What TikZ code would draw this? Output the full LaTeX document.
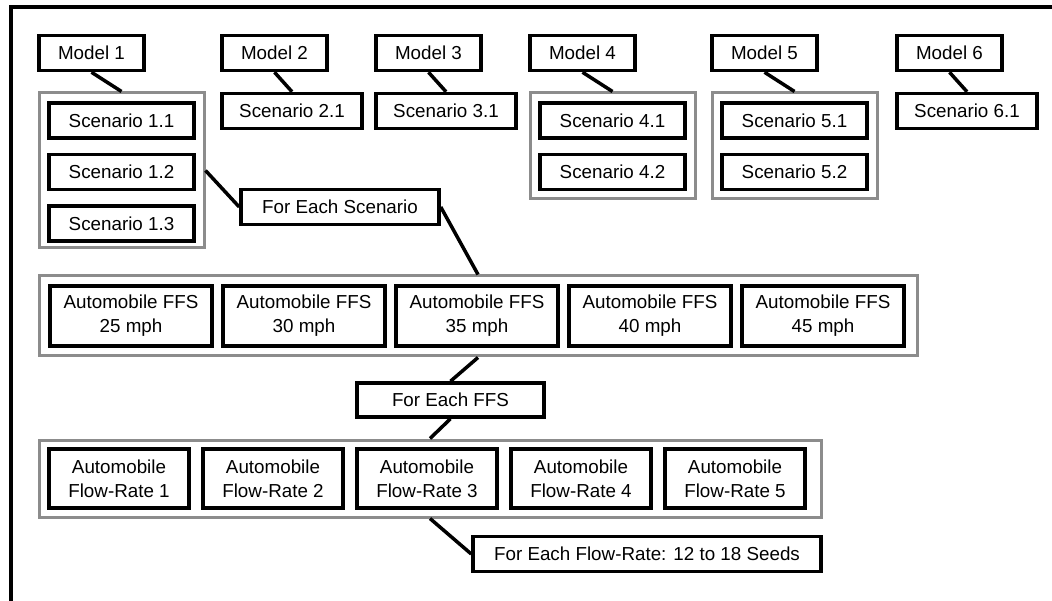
\documentclass[tikz,border=0pt]{standalone}
\usepackage{fontspec}
\setmainfont{Liberation Sans}
\usetikzlibrary{positioning}
\definecolor{grpgray}{RGB}{140,140,140}

\begin{document}
\begin{tikzpicture}[x=1pt,y=-1pt,
  every node/.style={font=\fontsize{18.8}{24}\selectfont, inner sep=0pt},
  box/.style={draw, line width=3.5pt, minimum height=35pt},
  model/.style={box, minimum width=105pt},
  scen/.style={box, minimum width=140pt},
  inscen/.style={box, minimum width=145pt},
  grp/.style={draw=grpgray, line width=3pt},
  ffs/.style={box, minimum width=162pt, minimum height=60pt, align=center},
  flow/.style={box, minimum width=140pt, minimum height=59pt, align=center},
  link/.style={line width=3.5pt}]
 \useasboundingbox (0,0) rectangle (1052,601);
 \draw[line width=3.5pt] (11,601) -- (11,7) -- (1052,7);

 \node[model] (m1) at (91.5,53) {Model 1};
 \node[model] (m2) at (274.5,53) {Model 2};
 \node[model] (m3) at (428.5,53) {Model 3};
 \node[model] (m4) at (582.5,53) {Model 4};
 \node[model] (m5) at (764.5,53) {Model 5};
 \node[model] (m6) at (949.5,53) {Model 6};

 \node[grp, minimum width=165pt, minimum height=155pt] (g1) at (121.5,170.5) {};
 \node[inscen] (s11) at (121.5,120.5) {Scenario 1.1};
 \node[inscen, below=13pt of s11] (s12) {Scenario 1.2};
 \node[inscen, below=13pt of s12] (s13) {Scenario 1.3};
 \node[scen] (s21) at (292,111) {Scenario 2.1};
 \node[scen] (s31) at (446,111) {Scenario 3.1};
 \node[grp, minimum width=165pt, minimum height=106pt] (g4) at (612.5,146) {};
 \node[inscen] (s41) at (612.5,120.5) {Scenario 4.1};
 \node[inscen, below=13pt of s41] (s42) {Scenario 4.2};
 \node[grp, minimum width=165pt, minimum height=106pt] (g5) at (794.5,146) {};
 \node[inscen] (s51) at (794.5,120.5) {Scenario 5.1};
 \node[inscen, below=13pt of s51] (s52) {Scenario 5.2};
 \node[scen] (s61) at (967,111) {Scenario 6.1};

 \node[box, minimum width=198pt] (eachscen) at (340,207) {For Each Scenario};

 \node[grp, minimum width=878pt, minimum height=80pt] (gffs) at (478,316) {};
 \node[ffs] (ffs25) at (131,316) {Automobile FFS\\25 mph};
 \node[ffs] (ffs30) at (304,316) {Automobile FFS\\30 mph};
 \node[ffs] (ffs35) at (477,316) {Automobile FFS\\35 mph};
 \node[ffs] (ffs40) at (650,316) {Automobile FFS\\40 mph};
 \node[ffs] (ffs45) at (823,316) {Automobile FFS\\45 mph};

 \node[box, minimum width=187pt, minimum height=34pt] (eachffs) at (450.5,400) {For Each FFS};

 \node[grp, minimum width=782pt, minimum height=77pt] (gflow) at (430,478.5) {};
 \node[flow] (fr1) at (119,478.5) {Automobile\\Flow-Rate 1};
 \node[flow] (fr2) at (273,478.5) {Automobile\\Flow-Rate 2};
 \node[flow] (fr3) at (427,478.5) {Automobile\\Flow-Rate 3};
 \node[flow] (fr4) at (581,478.5) {Automobile\\Flow-Rate 4};
 \node[flow] (fr5) at (735,478.5) {Automobile\\Flow-Rate 5};

 \node[box, minimum width=348pt] (eachflow) at (647,554) {For Each Flow-Rate: 12 to 18 Seeds};

 \draw[link] (m1.south) -- (g1.north);
 \draw[link] (m2.south) -- (s21.north);
 \draw[link] (m3.south) -- (s31.north);
 \draw[link] (m4.south) -- (g4.north);
 \draw[link] (m5.south) -- (g5.north);
 \draw[link] (m6.south) -- (s61.north);
 \draw[link] (g1.east) -- (eachscen.west);
 \draw[link] (eachscen.east) -- (gffs.north);
 \draw[link] (gffs.south) -- (eachffs.north);
 \draw[link] (eachffs.south) -- (gflow.north);
 \draw[link] (gflow.south) -- (eachflow.west);
\end{tikzpicture}
\end{document}
